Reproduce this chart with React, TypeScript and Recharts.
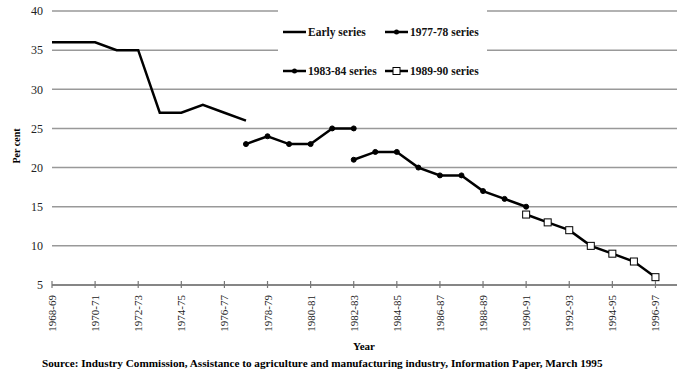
import React from 'react';
import { LineChart, Line, XAxis, YAxis, CartesianGrid } from 'recharts';

// Financial years on the x axis (last one is an empty slot at the right edge)
const years = [
  '1968-69', '1969-70', '1970-71', '1971-72', '1972-73', '1973-74', '1974-75', '1975-76',
  '1976-77', '1977-78', '1978-79', '1979-80', '1980-81', '1981-82', '1982-83', '1983-84',
  '1984-85', '1985-86', '1986-87', '1987-88', '1988-89', '1989-90', '1990-91', '1991-92',
  '1992-93', '1993-94', '1994-95', '1995-96', '1996-97', '1997-98',
];

// Each series starts at a given year
const earlySeries = [36, 36, 36, 35, 35, 27, 27, 28, 27, 26]; // from 1968-69
const series7778 = [23, 24, 23, 23, 25, 25]; // from 1977-78
const series8384 = [21, 22, 22, 20, 19, 19, 17, 16, 15]; // from 1982-83
const series8990 = [14, 13, 12, 10, 9, 8, 6]; // from 1990-91

const yTicks = [5, 10, 15, 20, 25, 30, 35, 40];

const pick = (arr: number[], start: number, i: number) =>
  i >= start && i < start + arr.length ? arr[i - start] : null;

const data = years.map((year, i) => ({
  year,
  early: pick(earlySeries, 0, i),
  s7778: pick(series7778, 9, i),
  s8384: pick(series8384, 14, i),
  s8990: pick(series8990, 22, i),
}));

const SERIF = '"Liberation Serif", "Times New Roman", serif';

const XTick = ({ x, y, payload }: any) => (
  <g>
    <line x1={x} x2={x} y1={y - 4} y2={y + 3} stroke="#777" strokeWidth={1.2} />
    <text
      transform={`translate(${x},${y + 10}) rotate(-90)`}
      textAnchor="end"
      dominantBaseline="central"
      fontSize={11}
      fontFamily={SERIF}
      fill="#222"
    >
      {payload.value}
    </text>
  </g>
);

const SquareDot = ({ cx, cy }: any) =>
  cx == null || cy == null ? null : (
    <rect x={cx - 3.5} y={cy - 3.5} width={7} height={7} fill="#fff" stroke="#000" strokeWidth={1} />
  );

const legendText = { fontFamily: SERIF, fontSize: 11.5, fontWeight: 700, fill: '#111' } as const;

export default function App() {
  return (
    <div style={{ position: 'absolute', left: 0, top: 0, width: 685, height: 385, background: '#fff' }}>
      <LineChart
        width={685}
        height={385}
        data={data}
        margin={{ top: 11, right: 8, left: 0, bottom: 40 }}
      >
        <CartesianGrid vertical={false} stroke="#999" strokeWidth={1.5} />
        <XAxis
          dataKey="year"
          interval={1}
          height={60}
          tickSize={0}
          tickMargin={0}
          tickLine={false}
          axisLine={{ stroke: '#777', strokeWidth: 1.5 }}
          tick={<XTick />}
        />
        <YAxis
          width={52}
          domain={[5, 40]}
          ticks={yTicks}
          axisLine={false}
          tickLine={false}
          tickSize={0}
          tickMargin={9}
          tick={{ fontSize: 12, fontFamily: SERIF, fill: '#222' }}
        />
        <Line dataKey="early" stroke="#000" strokeWidth={2.5} dot={false} isAnimationActive={false} />
        <Line
          dataKey="s7778"
          stroke="#000"
          strokeWidth={2.5}
          dot={{ r: 2.5, fill: '#000', stroke: '#000', strokeWidth: 1 }}
          isAnimationActive={false}
        />
        <Line
          dataKey="s8384"
          stroke="#000"
          strokeWidth={2.5}
          dot={{ r: 2.5, fill: '#000', stroke: '#000', strokeWidth: 1 }}
          isAnimationActive={false}
        />
        <Line dataKey="s8990" stroke="#000" strokeWidth={2.5} dot={<SquareDot />} isAnimationActive={false} />
      </LineChart>

      {/* legend box */}
      <svg
        width={209}
        height={80}
        style={{ position: 'absolute', left: 278, top: 2, background: '#fff' }}
      >
        <line x1={5} x2={28} y1={30} y2={30} stroke="#000" strokeWidth={2.5} />
        <text x={30} y={34} {...legendText}>Early series</text>
        <line x1={107} x2={130} y1={30} y2={30} stroke="#000" strokeWidth={2.5} />
        <circle cx={118.5} cy={30} r={2.5} fill="#000" />
        <text x={132} y={34} {...legendText}>1977-78 series</text>
        <line x1={5} x2={28} y1={69} y2={69} stroke="#000" strokeWidth={2.5} />
        <circle cx={16.5} cy={69} r={2.5} fill="#000" />
        <text x={30} y={73} {...legendText}>1983-84 series</text>
        <line x1={107} x2={130} y1={69} y2={69} stroke="#000" strokeWidth={2.5} />
        <rect x={115} y={65.5} width={7} height={7} fill="#fff" stroke="#000" strokeWidth={1} />
        <text x={132} y={73} {...legendText}>1989-90 series</text>
      </svg>

      <div
        style={{
          position: 'absolute', left: 9, top: 146, transform: 'translate(-50%, -50%) rotate(-90deg)',
          transformOrigin: 'center', fontFamily: SERIF, fontSize: 10, fontWeight: 700, whiteSpace: 'nowrap',
          marginLeft: 7,
        }}
      >
        Per cent
      </div>
      <div
        style={{
          position: 'absolute', left: 353, top: 340, fontFamily: SERIF, fontSize: 11, fontWeight: 700,
        }}
      >
        Year
      </div>
      <div
        style={{
          position: 'absolute', left: 42, top: 357, fontFamily: SERIF, fontSize: 11.2, fontWeight: 700,
          whiteSpace: 'nowrap',
        }}
      >
        Source: Industry Commission, Assistance to agriculture and manufacturing industry, Information Paper, March 1995
      </div>
    </div>
  );
}
